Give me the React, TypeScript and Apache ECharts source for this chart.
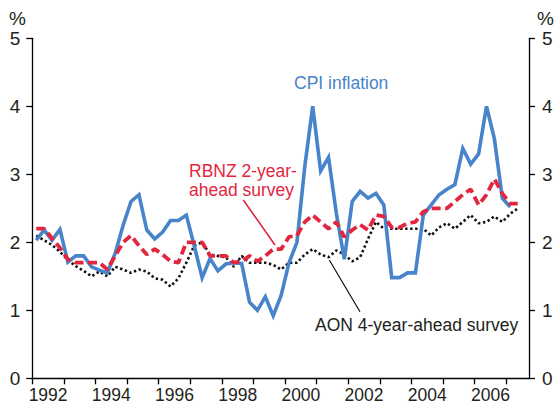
import React, { useEffect, useRef } from "react";
import * as echarts from "echarts";

// Quarterly observations, first = 1992 Q1
const startYear = 1992;
const cpi = [
  2.03, 2.18, 2.03, 2.19, 1.71, 1.8, 1.8, 1.64, 1.59, 1.55, 1.84, 2.25,
  2.6, 2.7, 2.18, 2.05, 2.15, 2.32, 2.32, 2.4, 1.95, 1.48, 1.76, 1.58,
  1.68, 1.7, 1.69, 1.12, 1.0, 1.2, 0.92, 1.22, 1.7, 2.0, 3.12, 4.0,
  3.05, 3.25, 2.42, 1.75, 2.6, 2.75, 2.65, 2.72, 2.55, 1.48, 1.48, 1.55,
  1.55, 2.4, 2.55, 2.7, 2.78, 2.85, 3.38, 3.15, 3.3, 4.0, 3.52, 2.65, 2.52,
];
const rbnz = [
  2.2, 2.2, 2.06, 1.92, 1.75, 1.7, 1.7, 1.7, 1.7, 1.6, 1.8, 2.0,
  2.1, 1.95, 1.82, 1.9, 1.82, 1.72, 1.7, 2.0, 2.0, 2.0, 1.8, 1.8,
  1.8, 1.7, 1.72, 1.8, 1.72, 1.8, 1.9, 1.9, 2.08, 2.1, 2.3, 2.4,
  2.3, 2.2, 2.3, 2.08, 2.18, 2.26, 2.18, 2.4, 2.38, 2.22, 2.22, 2.28,
  2.3, 2.45, 2.5, 2.5, 2.5, 2.6, 2.7, 2.78, 2.55, 2.7, 2.93, 2.72, 2.57, 2.57,
];
const aon = [
  2.1, 2.03, 1.96, 1.86, 1.74, 1.65, 1.58, 1.5, 1.57, 1.5, 1.64, 1.6,
  1.55, 1.6, 1.57, 1.47, 1.45, 1.35, 1.47, 1.7, 1.95, 2.0, 1.82, 1.8,
  1.78, 1.64, 1.8, 1.7, 1.7, 1.7, 1.67, 1.6, 1.7, 1.7, 1.82, 1.9,
  1.82, 1.78, 1.88, 1.82, 1.72, 1.78, 2.05, 2.3, 2.2, 2.2, 2.2, 2.2,
  2.2, 2.2, 2.1, 2.22, 2.28, 2.2, 2.3, 2.4, 2.28, 2.3, 2.38, 2.3, 2.42, 2.5,
];
const yearTicks = [1992, 1993, 1994, 1995, 1996, 1997, 1998, 1999, 2000, 2001, 2002, 2003, 2004, 2005, 2006, 2007];
const yearLabels = [1992, 1994, 1996, 1998, 2000, 2002, 2004, 2006];

const FONT = "'Liberation Sans', Arial, sans-serif";
const BLUE = "#4884c9";
const RED = "#e3263f";
const INK = "#231f20";

const toPoints = (arr: number[]) =>
  arr.map((v, i) => [startYear + (i + 0.5) / 4, v]);

export default function App() {
  const ref = useRef<HTMLDivElement>(null);
  useEffect(() => {
    document.body.style.margin = "0";
    const chart = echarts.init(ref.current!, null, { renderer: "svg" });
    const yAxisBase = {
      type: "value",
      min: 0,
      max: 5,
      interval: 1,
      splitLine: { show: false },
      axisLine: { show: true, lineStyle: { color: "#000", width: 1.3 } },
      axisTick: { show: true, inside: false, length: 6, lineStyle: { color: "#000", width: 1.3 } },
    };
    chart.setOption({
      animation: false,
      backgroundColor: "#fff",
      grid: { left: 32.3, right: 28, top: 38.3, bottom: 28.7, containLabel: false },
      xAxis: {
        type: "value",
        min: 1992,
        max: 2007.72,
        splitLine: { show: false },
        axisLine: { show: true, onZero: false, lineStyle: { color: "#000", width: 1.3 } },
        axisTick: {
          show: true,
          length: 6,
          customValues: yearTicks,
          lineStyle: { color: "#000", width: 1.3 },
        },
        axisLabel: {
          customValues: yearLabels.map((y) => y + 0.5),
          formatter: (v: number) => String(Math.round(v - 0.5)),
          fontFamily: FONT,
          fontSize: 17.5,
          color: INK,
          margin: 8,
        },
      },
      yAxis: [
        {
          ...yAxisBase,
          position: "left",
          axisLabel: { fontFamily: FONT, fontSize: 19, color: INK, margin: 12 },
        },
        {
          ...yAxisBase,
          position: "right",
          axisLabel: { fontFamily: FONT, fontSize: 19, color: INK, margin: 13 },
        },
      ],
      series: [
        {
          name: "AON 4-year-ahead survey",
          type: "line",
          data: toPoints(aon),
          showSymbol: false,
          symbol: "none",
          lineStyle: { color: "#111", width: 2.6, type: [2.4, 2.6] },
          z: 2,
        },
        {
          name: "CPI inflation",
          type: "line",
          data: toPoints(cpi),
          showSymbol: false,
          symbol: "none",
          lineStyle: { color: BLUE, width: 3.6, join: "miter" },
          z: 3,
        },
        {
          name: "RBNZ 2-year-ahead survey",
          type: "line",
          data: toPoints(rbnz),
          showSymbol: false,
          symbol: "none",
          lineStyle: { color: RED, width: 3.8, type: [9, 4.5] },
          z: 4,
        },
      ],
      graphic: [
        { type: "text", left: 9, top: 9, style: { text: "%", font: `19px ${FONT}`, fill: INK } },
        { type: "text", left: 537, top: 9, style: { text: "%", font: `19px ${FONT}`, fill: INK } },
        {
          type: "text",
          x: 294,
          y: 92,
          style: { text: "CPI inflation", font: `17.5px ${FONT}`, fill: BLUE, textVerticalAlign: "bottom" },
        },
        {
          type: "text",
          x: 189,
          y: 180,
          style: { text: "RBNZ 2-year-", font: `17.5px ${FONT}`, fill: RED, textVerticalAlign: "bottom" },
        },
        {
          type: "text",
          x: 189,
          y: 199,
          style: { text: "ahead survey", font: `17.5px ${FONT}`, fill: RED, textVerticalAlign: "bottom" },
        },
        {
          type: "text",
          x: 315,
          y: 334,
          style: { text: "AON 4-year-ahead survey", font: `17.5px ${FONT}`, fill: INK, textVerticalAlign: "bottom" },
        },
        {
          type: "line",
          shape: { x1: 243.3, y1: 200, x2: 275, y2: 245 },
          style: { stroke: RED, lineWidth: 1.6 },
          z: 10,
        },
        {
          type: "line",
          shape: { x1: 329.3, y1: 260, x2: 360, y2: 311.7 },
          style: { stroke: "#111", lineWidth: 1.2 },
          z: 10,
        },
      ],
    });
    return () => chart.dispose();
  }, []);
  return <div ref={ref} style={{ width: 557, height: 407 }} />;
}
